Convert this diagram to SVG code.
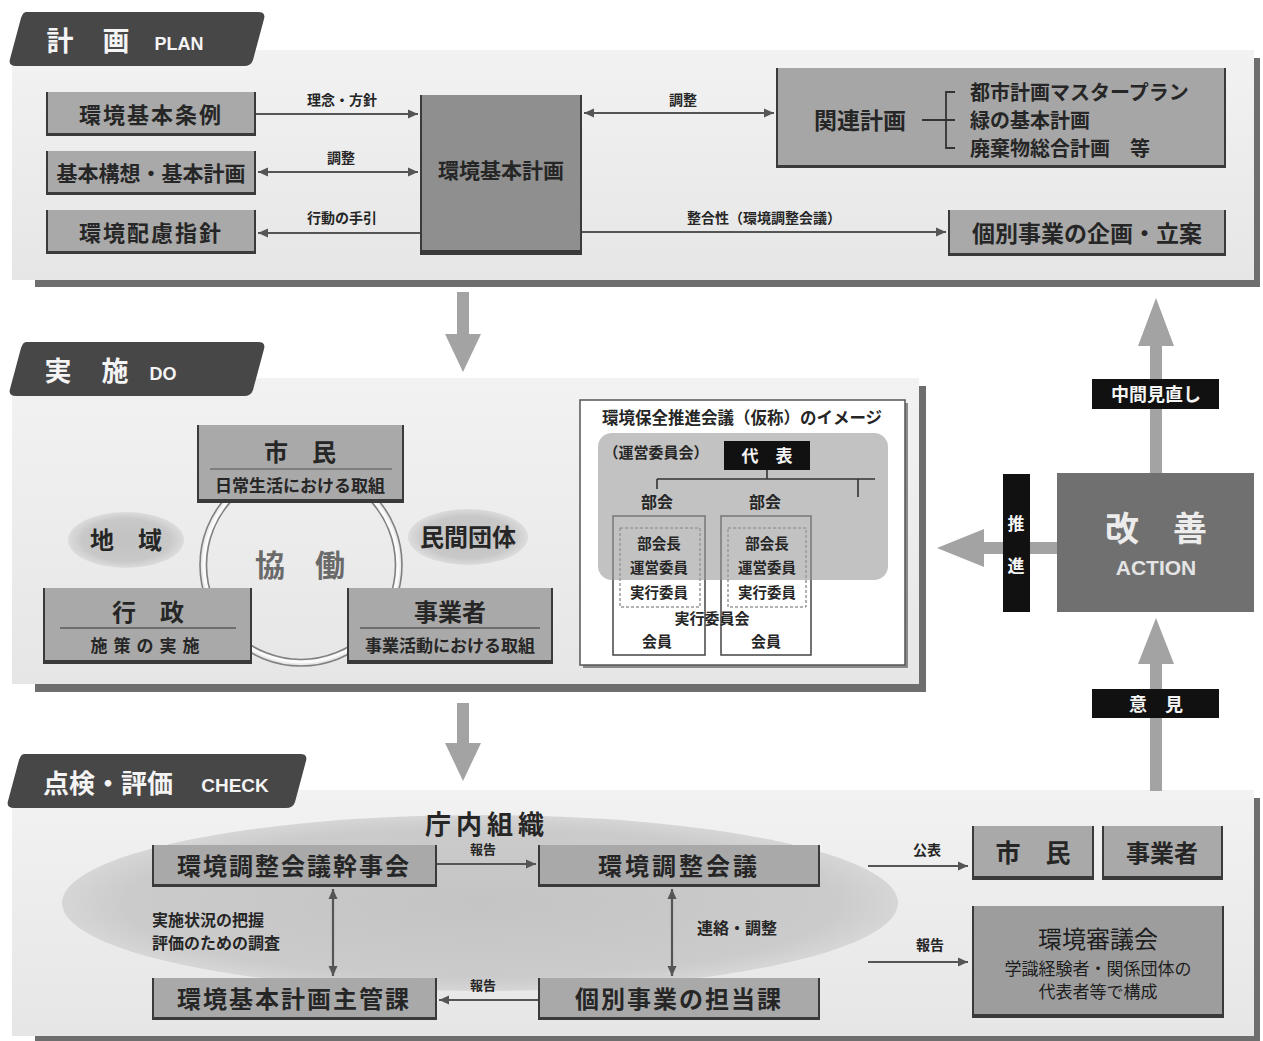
<svg xmlns="http://www.w3.org/2000/svg" width="1263" height="1041" viewBox="0 0 1263 1041">
<defs>
<style>
.t{font-family:"Noto Sans CJK JP","Noto Sans",sans-serif;font-weight:bold;fill:#262626;text-anchor:middle}
.tl{font-family:"Noto Sans CJK JP","Noto Sans",sans-serif;font-weight:bold;fill:#262626;text-anchor:start}
.w{fill:#f4f4f4}
.nd{fill:#a9a9a9}
.ne{fill:none;stroke:#3a3a3a;stroke-width:2}
.nb{fill:#3a3a3a}
.cn{fill:none;stroke:#555;stroke-width:2.2}
.big{fill:#a3a3a3}
.blk{fill:#111}
.tab{fill:#474747}
.psh{fill:#6e6e6e}
.pnl{fill:url(#pg)}
</style>
<linearGradient id="pg" x1="0" y1="0" x2="0" y2="1">
<stop offset="0" stop-color="#f2f2f2"/>
<stop offset="1" stop-color="#e6e6e6"/>
</linearGradient>
<radialGradient id="eg">
<stop offset="0" stop-color="#c2c2c2"/>
<stop offset="0.75" stop-color="#c8c8c8"/>
<stop offset="1" stop-color="#dcdcdc"/>
</radialGradient>
<radialGradient id="cg">
<stop offset="0" stop-color="#c4c4c4"/>
<stop offset="0.85" stop-color="#cbcbcb"/>
<stop offset="1" stop-color="#d6d6d6"/>
</radialGradient>
<marker id="ah" markerUnits="userSpaceOnUse" markerWidth="11" markerHeight="10" refX="10" refY="5" orient="auto-start-reverse">
<path d="M0,0.5 L10,5 L0,9.5 Z" fill="#555"/>
</marker>
</defs>
<rect width="1263" height="1041" fill="#fff"/>

<!-- panels -->
<g id="panels">
<rect class="psh" x="35" y="58" width="1225" height="229"/>
<rect class="pnl" x="12" y="50" width="1242" height="230"/>
<rect class="psh" x="35" y="386" width="891" height="306"/>
<rect class="pnl" x="12" y="378" width="907" height="306"/>
<rect class="psh" x="35" y="798" width="1225" height="243"/>
<rect class="pnl" x="12" y="790" width="1242" height="246"/>
</g>

<!-- tabs -->
<g id="tab-plan">
<path class="tab" d="M26,12 H258 Q266,12 264,19 L253,60 Q251,66 244,66 H16 Q8,66 10,59 L21,18 Q23,12 26,12 Z"/>
<text x="60" y="51" class="t w" font-size="27">計</text>
<text x="116" y="51" class="t w" font-size="27">画</text>
<text x="179" y="50" class="t w" font-size="18" style="font-family:'Liberation Sans',sans-serif">PLAN</text>
</g>
<g id="tab-do">
<path class="tab" d="M26,342 H258 Q266,342 264,349 L253,390 Q251,396 244,396 H16 Q8,396 10,389 L21,348 Q23,342 26,342 Z"/>
<text x="58" y="381" class="t w" font-size="27">実</text>
<text x="115" y="381" class="t w" font-size="27">施</text>
<text x="163" y="380" class="t w" font-size="18" style="font-family:'Liberation Sans',sans-serif">DO</text>
</g>
<g id="tab-check">
<path class="tab" d="M24,754 H300 Q308,754 306,761 L295,802 Q293,808 286,808 H14 Q6,808 8,801 L19,760 Q21,754 24,754 Z"/>
<text x="108" y="793" class="t w" font-size="26">点検・評価</text>
<text x="235" y="792" class="t w" font-size="19" style="font-family:'Liberation Sans',sans-serif">CHECK</text>
</g>

<!-- big flow arrows -->
<g id="flow-arrows">
<rect class="big" x="457" y="292" width="12" height="45"/>
<polygon class="big" points="445,334 481,334 463,372"/>
<rect class="big" x="457" y="703" width="12" height="43"/>
<polygon class="big" points="445,743 481,743 463,781"/>
<rect class="big" x="1150" y="340" width="12" height="134"/>
<polygon class="big" points="1138,346 1174,346 1156,298"/>
<rect class="big" x="1150" y="660" width="12" height="131"/>
<polygon class="big" points="1138,664 1174,664 1156,618"/>
<rect class="big" x="980" y="542" width="78" height="12"/>
<polygon class="big" points="984,529 984,567 937,548"/>
</g>

<!-- PLAN nodes -->
<g id="n-jourei">
<rect class="nd" x="46" y="92" width="210" height="44"/>
<path class="ne" d="M47,92 V135 H255 V92"/><rect class="nb" x="46" y="133" width="210" height="3"/>
<text x="151" y="123" class="t" font-size="22" letter-spacing="2">環境基本条例</text>
</g>
<g id="n-kihonkoso">
<rect class="nd" x="46" y="151" width="210" height="44"/>
<path class="ne" d="M47,151 V194 H255 V151"/><rect class="nb" x="46" y="192" width="210" height="3"/>
<text x="151" y="181" class="t" font-size="21">基本構想・基本計画</text>
</g>
<g id="n-hairyo">
<rect class="nd" x="46" y="210" width="210" height="44"/>
<path class="ne" d="M47,210 V253 H255 V210"/><rect class="nb" x="46" y="251" width="210" height="3"/>
<text x="151" y="241" class="t" font-size="22" letter-spacing="2">環境配慮指針</text>
</g>
<g id="n-kankyokihon">
<rect x="420" y="95" width="162" height="160" fill="#8f8f8f"/>
<path class="ne" d="M421,95 V254 H581 V95"/><rect class="nb" x="420" y="250" width="162" height="5"/>
<text x="501" y="178" class="t" font-size="21">環境基本計画</text>
</g>
<g id="n-kanren">
<rect x="776" y="68" width="450" height="100" fill="#a6a6a6"/>
<path class="ne" d="M777,68 V167 H1225 V68"/><rect class="nb" x="776" y="165" width="450" height="3"/>
<text x="860" y="129" class="t" font-size="23">関連計画</text>
<path d="M922,120 H946 M955,92 H946 V148 H955 M946,120 H955" fill="none" stroke="#333" stroke-width="1.8"/>
<text x="970" y="100" class="tl" font-size="20">都市計画マスタープラン</text>
<text x="970" y="128" class="tl" font-size="20">緑の基本計画</text>
<text x="970" y="156" class="tl" font-size="20" xml:space="preserve">廃棄物総合計画　等</text>
</g>
<g id="n-kobetsu-kikaku">
<rect class="nd" x="948" y="210" width="278" height="46"/>
<path class="ne" d="M949,210 V255 H1225 V210"/><rect class="nb" x="948" y="253" width="278" height="3"/>
<text x="1087" y="242" class="t" font-size="23">個別事業の企画・立案</text>
</g>

<!-- DO nodes -->
<g id="n-ring">
<circle cx="301" cy="565" r="101" fill="none" stroke="#808080" stroke-width="1.6"/>
<circle cx="301" cy="565" r="97" fill="none" stroke="#fafafa" stroke-width="3"/>
<circle cx="301" cy="565" r="94.5" fill="none" stroke="#808080" stroke-width="1.6"/>
<text x="300" y="576" class="t" font-size="30" fill="#6a6a6a" style="fill:#6a6a6a" xml:space="preserve">協　働</text>
</g>
<g id="n-shimin-do">
<rect class="nd" x="197" y="425" width="207" height="78"/>
<path class="ne" d="M198,425 V502 H403 V425"/><rect class="nb" x="197" y="499" width="207" height="4"/>
<text x="300" y="461" class="t" font-size="24" xml:space="preserve">市　民</text>
<line x1="210" y1="469" x2="392" y2="469" stroke="#555" stroke-width="1"/>
<text x="300" y="492" class="t" font-size="17">日常生活における取組</text>
</g>
<g id="n-gyosei">
<rect class="nd" x="43" y="588" width="209" height="76"/>
<path class="ne" d="M44,588 V663 H251 V588"/><rect class="nb" x="43" y="660" width="209" height="4"/>
<text x="148" y="621" class="t" font-size="24" xml:space="preserve">行　政</text>
<line x1="60" y1="628" x2="236" y2="628" stroke="#333" stroke-width="1.2"/>
<text x="148" y="652" class="t" font-size="17" letter-spacing="6">施策の実施</text>
</g>
<g id="n-jigyosha-do">
<rect class="nd" x="347" y="588" width="206" height="76"/>
<path class="ne" d="M348,588 V663 H552 V588"/><rect class="nb" x="347" y="660" width="206" height="4"/>
<text x="450" y="621" class="t" font-size="24">事業者</text>
<line x1="360" y1="628" x2="540" y2="628" stroke="#333" stroke-width="1.2"/>
<text x="450" y="652" class="t" font-size="17">事業活動における取組</text>
</g>
<g id="n-chiiki">
<ellipse cx="126" cy="540" rx="58" ry="28" fill="url(#eg)"/>
<text x="126" y="549" class="t" font-size="24" xml:space="preserve">地　域</text>
</g>
<g id="n-minkan">
<ellipse cx="468" cy="537" rx="60" ry="28" fill="url(#eg)"/>
<text x="468" y="546" class="t" font-size="24">民間団体</text>
</g>
<g id="n-suishin-kaigi">
<rect x="583" y="403" width="325" height="265" fill="#8a8a8a"/>
<rect x="580" y="400" width="325" height="265" fill="#fff" stroke="#555" stroke-width="1.5"/>
<text x="742" y="424" class="t" font-size="16.5">環境保全推進会議（仮称）のイメージ</text>
<rect x="613" y="516" width="92" height="139" fill="#fff" stroke="#444" stroke-width="1.5"/>
<rect x="721" y="516" width="90" height="139" fill="#fff" stroke="#444" stroke-width="1.5"/>
<rect x="620" y="528" width="80" height="79" fill="none" stroke="#666" stroke-width="1" stroke-dasharray="3,2"/>
<rect x="728" y="528" width="78" height="79" fill="none" stroke="#666" stroke-width="1" stroke-dasharray="3,2"/>
<rect x="598" y="433" width="290" height="147" rx="14" fill="#9a9a9a" fill-opacity="0.6"/>
<text x="656" y="458" class="t" font-size="15">（運営委員会）</text>
<rect x="724" y="441" width="86" height="29" class="blk"/>
<text x="767" y="462" class="t w" font-size="17" xml:space="preserve">代　表</text>
<path d="M657,479 H875 M767,470 V479 M657,479 V489 M858,479 V497" fill="none" stroke="#333" stroke-width="1.6"/>
<text x="657" y="508" class="t" font-size="16">部会</text>
<text x="765" y="508" class="t" font-size="16">部会</text>
<text x="659" y="549" class="t" font-size="14.5">部会長</text>
<text x="659" y="573" class="t" font-size="14.5">運営委員</text>
<text x="659" y="598" class="t" font-size="14.5">実行委員</text>
<text x="767" y="549" class="t" font-size="14.5">部会長</text>
<text x="767" y="573" class="t" font-size="14.5">運営委員</text>
<text x="767" y="598" class="t" font-size="14.5">実行委員</text>
<text x="712" y="624" class="t" font-size="15">実行委員会</text>
<text x="657" y="647" class="t" font-size="15">会員</text>
<text x="766" y="647" class="t" font-size="15">会員</text>
</g>

<!-- ACTION side -->
<g id="n-kaizen">
<rect x="1057" y="473" width="197" height="139" fill="#707070"/>
<text x="1156" y="541" class="t" font-size="34" style="fill:#ececec" xml:space="preserve">改　善</text>
<text x="1156" y="575" class="t" font-size="21" style="fill:#e4e4e4;font-family:'Liberation Sans',sans-serif">ACTION</text>
</g>
<g id="n-suishin">
<rect x="1003" y="474" width="27" height="138" class="blk"/>
<text x="1016" y="530" class="t w" font-size="17">推</text>
<text x="1016" y="572" class="t w" font-size="17">進</text>
</g>
<g id="n-chukan">
<rect x="1092" y="379" width="127" height="30" class="blk"/>
<text x="1156" y="401" class="t w" font-size="18">中間見直し</text>
</g>
<g id="n-iken">
<rect x="1092" y="689" width="127" height="29" class="blk"/>
<text x="1156" y="711" class="t w" font-size="18" xml:space="preserve">意　見</text>
</g>

<!-- CHECK nodes -->
<g id="n-chonai">
<ellipse cx="480" cy="903" rx="418" ry="88" fill="url(#cg)"/>
<text x="487" y="834" class="t" font-size="26" letter-spacing="5">庁内組織</text>
</g>
<g id="n-kanjikai">
<rect class="nd" x="152" y="845" width="285" height="42"/>
<path class="ne" d="M153,845 V886 H436 V845"/><rect class="nb" x="152" y="884" width="285" height="3"/>
<text x="294" y="875" class="t" font-size="24" letter-spacing="2">環境調整会議幹事会</text>
</g>
<g id="n-chosei">
<rect class="nd" x="538" y="845" width="282" height="42"/>
<path class="ne" d="M539,845 V886 H819 V845"/><rect class="nb" x="538" y="884" width="282" height="3"/>
<text x="679" y="875" class="t" font-size="24" letter-spacing="3">環境調整会議</text>
</g>
<g id="n-shukan">
<rect class="nd" x="152" y="978" width="285" height="42"/>
<path class="ne" d="M153,978 V1019 H436 V978"/><rect class="nb" x="152" y="1017" width="285" height="3"/>
<text x="294" y="1008" class="t" font-size="24" letter-spacing="2">環境基本計画主管課</text>
</g>
<g id="n-tanto">
<rect class="nd" x="538" y="978" width="282" height="42"/>
<path class="ne" d="M539,978 V1019 H819 V978"/><rect class="nb" x="538" y="1017" width="282" height="3"/>
<text x="679" y="1008" class="t" font-size="24" letter-spacing="2">個別事業の担当課</text>
</g>
<g id="n-shimin-ck">
<rect class="nd" x="972" y="826" width="122" height="54"/>
<path class="ne" d="M973,826 V879 H1093 V826"/><rect class="nb" x="972" y="876" width="122" height="4"/>
<text x="1033" y="862" class="t" font-size="25" xml:space="preserve">市　民</text>
</g>
<g id="n-jigyosha-ck">
<rect class="nd" x="1102" y="826" width="121" height="54"/>
<path class="ne" d="M1103,826 V879 H1222 V826"/><rect class="nb" x="1102" y="876" width="121" height="4"/>
<text x="1162" y="862" class="t" font-size="24">事業者</text>
</g>
<g id="n-shingikai">
<rect x="972" y="906" width="252" height="112" fill="#9d9d9d"/>
<path class="ne" d="M973,906 V1017 H1223 V906"/><rect class="nb" x="972" y="1014" width="252" height="4"/>
<text x="1098" y="948" class="t" font-size="24" style="font-weight:normal;fill:#1e1e1e">環境審議会</text>
<text x="1098" y="975" class="t" font-size="17" style="font-weight:normal;fill:#1e1e1e">学識経験者・関係団体の</text>
<text x="1098" y="998" class="t" font-size="17" style="font-weight:normal;fill:#1e1e1e">代表者等で構成</text>
</g>

<!-- connectors -->
<g id="connectors">
<path class="cn" d="M256,114 H418" marker-end="url(#ah)"/>
<path class="cn" d="M258,172 H418" marker-start="url(#ah)" marker-end="url(#ah)"/>
<path class="cn" d="M420,233 H258" marker-end="url(#ah)"/>
<path class="cn" d="M584,113 H774" marker-start="url(#ah)" marker-end="url(#ah)"/>
<path class="cn" d="M582,232 H946" marker-end="url(#ah)"/>
<path class="cn" d="M437,864 H536" marker-end="url(#ah)"/>
<path class="cn" d="M538,1000 H439" marker-end="url(#ah)"/>
<path class="cn" d="M333,889 V976" marker-start="url(#ah)" marker-end="url(#ah)"/>
<path class="cn" d="M672,889 V976" marker-start="url(#ah)" marker-end="url(#ah)"/>
<path class="cn" d="M868,866 H968" marker-end="url(#ah)"/>
<path class="cn" d="M868,962 H968" marker-end="url(#ah)"/>
<text x="342" y="105" class="t" font-size="14">理念・方針</text>
<text x="341" y="163" class="t" font-size="14">調整</text>
<text x="342" y="223" class="t" font-size="14">行動の手引</text>
<text x="683" y="105" class="t" font-size="14">調整</text>
<text x="764" y="223" class="t" font-size="14">整合性（環境調整会議）</text>
<text x="483" y="854" class="t" font-size="13">報告</text>
<text x="483" y="990" class="t" font-size="13">報告</text>
<text x="152" y="926" class="tl" font-size="16">実施状況の把握</text>
<text x="152" y="949" class="tl" font-size="16">評価のための調査</text>
<text x="697" y="934" class="tl" font-size="16">連絡・調整</text>
<text x="927" y="855" class="t" font-size="14">公表</text>
<text x="930" y="950" class="t" font-size="14">報告</text>
</g>
</svg>
